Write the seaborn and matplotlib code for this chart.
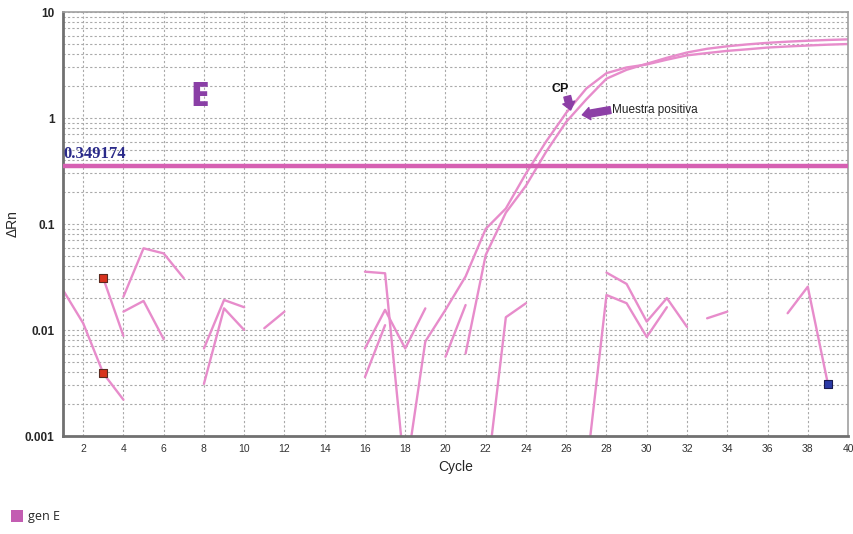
import numpy as np
import pandas as pd
import matplotlib
matplotlib.use("Agg")
import matplotlib.pyplot as plt
import seaborn as sns
from matplotlib.patches import Patch
from matplotlib.ticker import LogLocator, FixedLocator, NullFormatter

N = np.nan

# Amplification cycles
cycles = list(range(1, 41))

# Delta Rn per well (missing = non-positive reading, not shown on log axis)
well_1 = [0.0238, 0.0116, 0.0039, 0.0022, N, N, N, 0.0067, 0.0192, 0.0164,
          N, N, N, N, N, 0.0036, 0.0111, N, N, 0.0056,
          0.0172, N, N, N, N, N, 0.00047, 0.0214, 0.0179, 0.0086,
          0.0164, N, N, N, N, N, 0.0144, 0.0256, 0.0031, N]
well_2 = [N, N, 0.0308, 0.0088, N, N, N, 0.0031, 0.016, 0.010,
          N, N, N, N, N, 0.0067, 0.0155, 0.0067, 0.016, N,
          N, 0.00033, 0.0132, 0.0179, N, N, N, 0.0348, 0.0272, 0.012,
          0.020, 0.0107, N, N, N, N, N, N, N, N]
well_3 = [N, N, N, 0.0206, 0.059, 0.0528, 0.0308, N, N, N,
          0.0104, 0.0149, N, N, N, N, N, N, N, N,
          N, N, N, N, N, N, N, N, N, N,
          N, N, 0.0129, 0.0149, N, N, N, N, N, N]
well_4 = [N, N, N, 0.0149, 0.0188, 0.0082, N, N, N, N,
          N, N, N, N, N, N, N, N, N, N,
          N, N, N, N, N, N, N, N, N, N,
          N, N, N, N, N, N, N, N, N, N]
control_cp = [N, N, N, N, N, N, N, N, N, N,
              N, N, N, N, N, 0.0355, 0.0343, 0.0004, 0.0078, 0.0155,
              0.032, 0.09, 0.14, 0.30, 0.60, 1.12, 1.9, 2.65, 3.0, 3.2,
              3.55, 3.9, 4.1, 4.3, 4.45, 4.62, 4.73, 4.83, 4.92, 4.99]
sample_pos = [N, N, N, N, N, N, N, N, N, N,
              N, N, N, N, N, N, N, N, N, N,
              0.006, 0.051, 0.128, 0.23, 0.48, 0.92, 1.5, 2.35, 2.85, 3.25,
              3.7, 4.15, 4.5, 4.75, 4.95, 5.12, 5.25, 5.36, 5.45, 5.52]

threshold = 0.349174

y_ticks = [0.001, 0.01, 0.1, 1, 10]
y_tick_labels = ["0.001", "0.01", "0.1", "1", "10"]
x_ticks = list(range(2, 41, 2))

wells = {"w1": well_1, "w2": well_2, "w3": well_3, "w4": well_4,
         "cp": control_cp, "pos": sample_pos}

# Long table, each unbroken run of readings gets its own segment id
rows = []
for name, vals in wells.items():
    arr = np.array(vals, dtype=float)
    run = np.cumsum(np.isnan(arr))
    for c, v, r in zip(cycles, arr, run):
        if not np.isnan(v):
            rows.append({"Cycle": c, "dRn": v, "segment": f"{name}_{r}"})
df = pd.DataFrame(rows)

sns.set_style("white")
plt.rcParams["font.family"] = ["Liberation Sans", "DejaVu Sans"]

trace_color = "#e78ccb"
fig = plt.figure(figsize=(8.54, 5.34), dpi=100)
ax = fig.add_axes([0.0738, 0.1835, 0.9192, 0.794])
ax.set_yscale("log")

sns.lineplot(data=df, x="Cycle", y="dRn", units="segment", estimator=None,
             color=trace_color, lw=1.7, ax=ax, legend=False)

# Baseline start / end markers
start_pts = pd.DataFrame({"Cycle": [3, 3], "dRn": [well_1[2], well_2[2]]})
end_pts = pd.DataFrame({"Cycle": [39], "dRn": [well_1[38]]})
sns.scatterplot(data=start_pts, x="Cycle", y="dRn", marker="s", s=28,
                color="#d8321e", edgecolor="#5a2a20", linewidth=0.8, ax=ax, zorder=5)
sns.scatterplot(data=end_pts, x="Cycle", y="dRn", marker="s", s=28,
                color="#2b3aa6", edgecolor="#1a1a50", linewidth=0.8, ax=ax, zorder=5)

# Threshold
ax.axhline(threshold, color="#d660b2", lw=3.2, zorder=4)
ax.text(1.0, threshold * 1.1, f"{threshold:g}", color="#2b2b8a",
        fontsize=12, fontweight="bold", family=["Liberation Serif", "DejaVu Serif"],
        ha="left", va="bottom", zorder=6)

ax.set_xlim(1, 40)
ax.set_ylim(0.001, 10)

ax.yaxis.set_major_locator(FixedLocator(y_ticks))
ax.set_yticklabels(y_tick_labels)
ax.yaxis.set_minor_locator(LogLocator(base=10, subs=np.arange(2, 10)))
ax.yaxis.set_minor_formatter(NullFormatter())
ax.set_xticks(x_ticks)

grid_kw = dict(color="#a9a9a9", lw=0.8, ls=(0, (2, 2)))
ax.grid(True, which="both", axis="y", **grid_kw)
ax.grid(True, which="major", axis="x", **grid_kw)
ax.set_axisbelow(True)

ax.tick_params(axis="y", which="major", direction="out", length=4, width=1,
               color="#555555", labelsize=8.5, pad=2)
ax.tick_params(axis="y", which="minor", direction="out", length=2, width=0.8,
               color="#777777")
ax.tick_params(axis="x", which="major", direction="out", length=3, width=1,
               color="#555555", labelsize=7.5, labelcolor="#333333", pad=3)
for lab in ax.get_yticklabels():
    lab.set_fontweight("bold")

for side in ["left", "bottom"]:
    ax.spines[side].set_color("#707070")
    ax.spines[side].set_linewidth(2)
for side in ["top", "right"]:
    ax.spines[side].set_color("#a0a0a0")
    ax.spines[side].set_linewidth(1.2)

ax.set_xlabel("Cycle", fontsize=10, labelpad=4)
ax.set_ylabel("\u0394Rn", fontsize=10)
ax.yaxis.set_label_coords(-0.055, 0.5)

# Panel letter
ax.text(7.8, 1.58, "E", color="#8a3fa6", fontsize=24, fontweight="heavy",
        family=["Open Sans", "DejaVu Sans"], ha="center", va="center")

# Annotations
arrow_color = "#8c3fa6"
ax.text(25.7, 1.88, "CP", fontsize=9, fontweight="bold", ha="center",
        va="center", color="#111111")
ax.annotate("", xy=(26.22, 1.19), xytext=(26.05, 1.6),
            arrowprops=dict(arrowstyle="simple,head_length=0.5,head_width=0.8,tail_width=0.45",
                            color=arrow_color, shrinkA=0, shrinkB=0, mutation_scale=11))
ax.text(28.25, 1.19, "Muestra positiva", fontsize=8.5, ha="left", va="center",
        color="#222222", family=["Liberation Sans Narrow", "Liberation Sans", "DejaVu Sans"])
ax.annotate("", xy=(26.8, 1.07), xytext=(28.2, 1.19),
            arrowprops=dict(arrowstyle="simple,head_length=0.5,head_width=0.8,tail_width=0.45",
                            color=arrow_color, shrinkA=0, shrinkB=0, mutation_scale=11))

# Legend
handle = Patch(facecolor="#c35db2", edgecolor="none", label="gen E")
fig.legend(handles=[handle], loc="lower left", bbox_to_anchor=(0.0, 0.0),
           frameon=False, handlelength=0.9, handleheight=1.1, handletextpad=0.4,
           prop={"family": ["Open Sans", "DejaVu Sans"], "size": 9})

fig.savefig("out.png", dpi=100)
